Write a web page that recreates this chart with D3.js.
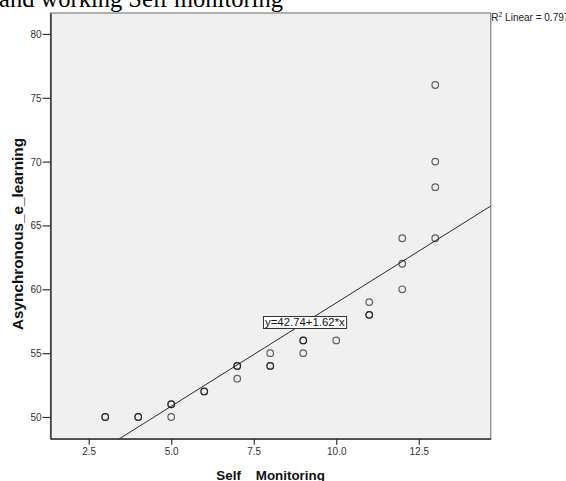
<!DOCTYPE html>
<html>
<head>
<meta charset="utf-8">
<script src="https://cdn.jsdelivr.net/npm/d3@7"></script>
<style>
  html, body { margin: 0; padding: 0; background: #fff; }
  svg { display: block; }
</style>
</head>
<body>
<svg id="chart" width="566" height="481"></svg>
<script>
// Observed scores (repeated pairs are listed once per case)
const selfMonitoring = [3, 3, 4, 4, 5, 5, 5, 6, 6, 7, 7, 7, 8, 8, 8, 9, 9, 9, 10, 11, 11, 11, 12, 12, 12, 13, 13, 13, 13];
const asyncLearning  = [50, 50, 50, 50, 51, 51, 50, 52, 52, 54, 54, 53, 55, 54, 54, 56, 56, 55, 56, 59, 58, 58, 64, 62, 60, 76, 70, 68, 64];

// Fitted linear model
const intercept = 42.74;
const slope = 1.62;
const rSquared = 0.797;

const xTicks = [2.5, 5.0, 7.5, 10.0, 12.5];
const yTicks = [50, 55, 60, 65, 70, 75, 80];

const titleText = "and working Self monitoring";
const xTitle = "Self    Monitoring";
const yTitle = "Asynchronous_e_learning";

const svg = d3.select("#chart");
const plot = { left: 50.5, right: 490.7, top: 13, bottom: 438.7 };

const x = d3.scaleLinear().domain([1.342, 14.68]).range([plot.left, plot.right]);
const y = d3.scaleLinear().domain([48.30, 81.64]).range([plot.bottom, plot.top]);

// Title (partially above the canvas)
const title = svg.append("text")
  .attr("x", -1).attr("y", 6.5)
  .style("font-family", "'Liberation Serif', 'Times New Roman', serif")
  .style("font-size", "24px")
  .attr("fill", "#000")
  .text(titleText);
const tw = title.node().getComputedTextLength();
title.style("font-size", (24 * 284 / tw) + "px");

// Plot background
svg.append("rect")
  .attr("x", plot.left).attr("y", plot.top)
  .attr("width", plot.right - plot.left).attr("height", plot.bottom - plot.top)
  .attr("fill", "#f0f0f0")
  .attr("stroke", "#8a8a8a").attr("stroke-width", 1.3);

svg.append("clipPath").attr("id", "plotclip")
  .append("rect")
  .attr("x", plot.left).attr("y", plot.top)
  .attr("width", plot.right - plot.left).attr("height", plot.bottom - plot.top);

// Axes
const axisFont = "'Liberation Sans', Arial, sans-serif";
const gx = svg.append("g")
  .attr("transform", `translate(0,${plot.bottom})`)
  .call(d3.axisBottom(x).tickValues(xTicks).tickFormat(d3.format(".1f")).tickSizeOuter(0).tickSizeInner(6).tickPadding(3));
const gy = svg.append("g")
  .attr("transform", `translate(${plot.left},0)`)
  .call(d3.axisLeft(y).tickValues(yTicks).tickFormat(d3.format("d")).tickSizeOuter(0).tickSizeInner(8).tickPadding(1));
[gx, gy].forEach(g => {
  g.select(".domain").attr("stroke", "#222").attr("stroke-width", 1.3);
  g.selectAll(".tick line").attr("stroke", "#333").attr("stroke-width", 1.2);
  g.selectAll(".tick text")
    .attr("fill", "#333")
    .style("font-family", axisFont)
    .style("font-size", "10px");
});
gy.selectAll(".tick text").attr("dy", "0.35em");

// Axis titles
svg.append("text")
  .attr("x", (plot.left + plot.right) / 2).attr("y", 479.5)
  .attr("text-anchor", "middle")
  .attr("xml:space", "preserve")
  .style("white-space", "pre")
  .style("font-family", axisFont).style("font-size", "13.4px").style("font-weight", "bold")
  .attr("fill", "#111")
  .text(xTitle);

const yt = svg.append("text")
  .attr("transform", `translate(22.5,234) rotate(-90)`)
  .attr("text-anchor", "middle")
  .style("font-family", axisFont).style("font-size", "13.4px").style("font-weight", "bold")
  .attr("fill", "#111")
  .text(yTitle);
const ytw = yt.node().getComputedTextLength();
yt.style("font-size", (13.4 * 192 / ytw) + "px");

// Regression line
const markG = svg.append("g").attr("clip-path", "url(#plotclip)");
const xs = x.domain();
markG.append("line")
  .attr("x1", x(xs[0])).attr("y1", y(intercept + slope * xs[0]))
  .attr("x2", x(xs[1])).attr("y2", y(intercept + slope * xs[1]))
  .attr("stroke", "#2a2a2a").attr("stroke-width", 1);

// Points
const pts = selfMonitoring.map((v, i) => ({ sx: v, ay: asyncLearning[i] }));
markG.selectAll("circle.pt").data(pts).join("circle")
  .attr("class", "pt")
  .attr("cx", d => x(d.sx)).attr("cy", d => y(d.ay))
  .attr("r", 3.3)
  .attr("fill", "none")
  .attr("stroke", "#000").attr("stroke-opacity", 0.6)
  .attr("stroke-width", 1.2);

// Equation label on the line
const ex = 9.05;
const eqG = svg.append("g")
  .attr("transform", `translate(${x(ex)},${y(intercept + slope * ex)})`);
const eqText = eqG.append("text")
  .attr("text-anchor", "middle").attr("dy", "0.35em")
  .style("font-family", axisFont).style("font-size", "11.4px")
  .attr("fill", "#111")
  .text(`y=${intercept.toFixed(2)}+${slope.toFixed(2)}*x`);
const bb = eqText.node().getBBox();
eqG.insert("rect", "text")
  .attr("x", bb.x - 1.5).attr("y", -6)
  .attr("width", bb.width + 3).attr("height", 12)
  .attr("fill", "#fff").attr("stroke", "#333").attr("stroke-width", 1);

// R-squared note
const r2 = svg.append("text")
  .attr("x", plot.right + 0.5).attr("y", 20.5)
  .style("font-family", axisFont).style("font-size", "10px")
  .attr("fill", "#222");
r2.append("tspan").text("R");
r2.append("tspan").attr("dy", -4).style("font-size", "7px").text("2");
r2.append("tspan").attr("dy", 4).text(` Linear = ${rSquared.toFixed(3)}`);
</script>
</body>
</html>
